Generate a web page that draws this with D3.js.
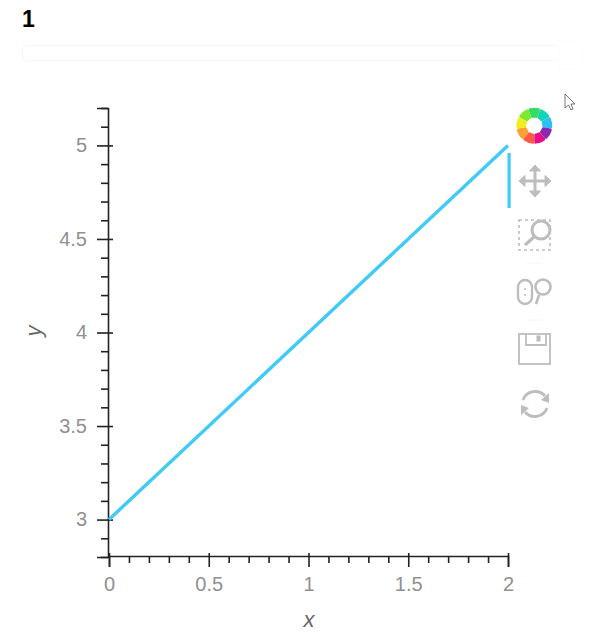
<!DOCTYPE html>
<html><head><meta charset="utf-8">
<script src="https://cdn.jsdelivr.net/npm/d3@7"></script>
<style>html,body{margin:0;padding:0;background:#fff;overflow:hidden}svg{display:block}text{font-family:"Liberation Sans",Arial,sans-serif}</style>
</head><body><svg id="c" width="600" height="642"></svg>
<script>
const titleText = "1";
const lineX = [0, 2];
const lineY = [3, 5];
const xDomain = [0, 2];
const yDomain = [2.8, 5.2];
const xMajor = [0, 0.5, 1, 1.5, 2];
const xMinor = [0.1,0.2,0.3,0.4,0.6,0.7,0.8,0.9,1.1,1.2,1.3,1.4,1.6,1.7,1.8,1.9];
const yMajor = [3, 3.5, 4, 4.5, 5];
const yMinor = [2.8,2.9,3.1,3.2,3.3,3.4,3.6,3.7,3.8,3.9,4.1,4.2,4.3,4.4,4.6,4.7,4.8,4.9,5.1,5.2];
const wheelColors = ["#34dc62","#14d6b4","#2cc0f4","#8a2ab0","#e80c88","#ff5a48","#ffa030","#f0ee20","#7fe82c"];
const lineColor = "#3fcbf6", axisColor = "#222", tickText = "#909090", iconColor = "#bdbdbd";

const svg = d3.select("#c");
const x = d3.scaleLinear().domain(xDomain).range([109, 508]);
const y = d3.scaleLinear().domain(yDomain).range([557, 108]);

svg.append("text").attr("x",22).attr("y",27).attr("font-size",23).attr("font-weight","bold").attr("fill","#000").text(titleText);
svg.append("rect").attr("x",22.5).attr("y",45.5).attr("width",536).attr("height",15).attr("rx",5).attr("fill","#fff").attr("stroke","#f4f4f4");
svg.append("rect").attr("x",558).attr("y",40).attr("width",23).attr("height",29).attr("rx",3).attr("fill","#fff").attr("stroke","#fcfcfc");

// Minor axes
const gxMin = svg.append("g").attr("transform","translate(0,556)").call(d3.axisBottom(x).tickValues(xMinor).tickSize(7).tickFormat(""));
const gyMin = svg.append("g").attr("transform","translate(108,0)").call(d3.axisLeft(y).tickValues(yMinor).tickSize(7).tickFormat(""));
// Major axes
const gx = svg.append("g").attr("transform","translate(0,556)").call(d3.axisBottom(x).tickValues(xMajor).tickSize(11).tickPadding(10).tickFormat(d3.format("~g")));
const gy = svg.append("g").attr("transform","translate(108,0)").call(d3.axisLeft(y).tickValues(yMajor).tickSize(11).tickPadding(10).tickFormat(d3.format("~g")));
gx.selectAll(".tick line").attr("y1",-3);
gy.selectAll(".tick line").attr("x1",5);
gyMin.selectAll(".domain").remove(); gxMin.selectAll(".domain").remove();
[gx,gy,gxMin,gyMin].forEach(g=>{
  g.selectAll("path.domain").attr("stroke",axisColor).attr("stroke-width",1.6);
  g.selectAll(".tick line").attr("stroke",axisColor).attr("stroke-width",1.6);
  g.selectAll("text").attr("font-size",20).attr("fill",tickText).attr("font-family",'"Liberation Sans",Arial,sans-serif');
});

const line = d3.line().x(d=>x(d[0])).y(d=>y(d[1]));
svg.append("path").datum(d3.zip(lineX,lineY)).attr("d",line).attr("fill","none").attr("stroke",lineColor).attr("stroke-width",3.4);

svg.append("text").attr("x",309).attr("y",627).attr("text-anchor","middle").attr("font-size",22).attr("font-style","italic").attr("fill","#666").text("x");
svg.append("text").attr("transform","translate(41,331) rotate(-90)").attr("text-anchor","middle").attr("font-size",22).attr("font-style","italic").attr("fill","#666").text("y");

// Toolbar
svg.append("rect").attr("x",507.5).attr("y",153).attr("width",3.2).attr("height",55).attr("fill",lineColor);
const wheel = svg.append("g").attr("transform","translate(534.3,125.7)").style("filter","blur(0.7px)");
const pie = d3.pie().value(1).sort(null).startAngle(-0.35).endAngle(-0.35+2*Math.PI)(wheelColors);
wheel.selectAll("path").data(pie).join("path").attr("d",d3.arc().innerRadius(8).outerRadius(18).cornerRadius(1.5)).attr("fill",(d,i)=>wheelColors[i]);

const icon = svg.append("g").attr("fill","none").attr("stroke",iconColor).attr("stroke-width",2.2);
// pan
const pan = svg.append("g").attr("transform","translate(535,181)").attr("fill",iconColor).attr("stroke",iconColor);
pan.append("path").attr("d","M-12,0H12M0,-12V12").attr("stroke-width",3);
pan.append("path").attr("d","M0,-16L-5.5,-10H5.5ZM0,16L-5.5,10H5.5ZM-16,0L-10,-5.5V5.5ZM16,0L10,-5.5V5.5Z").attr("stroke-width",1);
// box zoom
icon.append("rect").attr("x",519).attr("y",220).attr("width",31).attr("height",30).attr("stroke-dasharray","3 3").attr("stroke-width",1.6);
icon.append("circle").attr("cx",541).attr("cy",230).attr("r",9).attr("stroke-width",3).attr("fill","#fff");
icon.append("path").attr("d","M534,237L525,245").attr("stroke-width",3.2);
icon.append("path").attr("d","M527,263H543M527,320H543").attr("stroke","#f4f4f4").attr("stroke-width",1);
// wheel zoom
icon.append("rect").attr("x",518).attr("y",280).attr("width",14).attr("height",24).attr("rx",7).attr("stroke-width",2.4);
icon.append("path").attr("d","M525,288v2M525,294v2").attr("stroke-width",1.5);
icon.append("circle").attr("cx",543).attr("cy",287).attr("r",7.5).attr("stroke-width",2.6);
icon.append("path").attr("d","M539,295L536,304").attr("stroke-width",2.6);
// save
icon.append("rect").attr("x",519).attr("y",334).attr("width",31).attr("height",30).attr("stroke-width",1.8);
icon.append("path").attr("d","M526,334V345H546V334").attr("stroke-width",1.8);
icon.append("rect").attr("x",537).attr("y",336).attr("width",3).attr("height",5).attr("fill",iconColor).attr("stroke-width",1);
// reset
icon.append("path").attr("d","M523,400A13,13 0 0 1 545,396").attr("stroke-width",2.8);
icon.append("path").attr("d","M547,408A13,13 0 0 1 525,412").attr("stroke-width",2.8);
svg.append("path").attr("d","M549,393L549,403L541,400ZM521,415L521,405L529,408Z").attr("fill",iconColor);
// cursor
svg.append("path").attr("d","M565,94V108L568.5,105L571,110L573,109L571,104H575Z").attr("fill","#fff").attr("stroke","#666").attr("stroke-width",0.9);
</script></body></html>
